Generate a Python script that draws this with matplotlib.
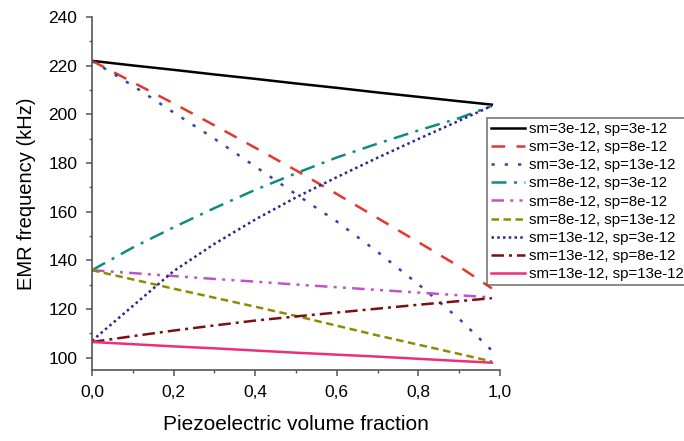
import numpy as np
import matplotlib
matplotlib.use('Agg')
import matplotlib.pyplot as plt
from matplotlib.ticker import MultipleLocator, FuncFormatter

plt.rcParams['font.family'] = ['Liberation Sans', 'DejaVu Sans']

# piezoelectric volume fraction
x = [0.0, 0.1, 0.2, 0.3, 0.4, 0.5, 0.6, 0.7, 0.8, 0.9, 0.98]

# EMR frequency (kHz), one list per compliance pair
f_3_3 = [222.0, 220.1, 218.3, 216.4, 214.6, 212.7, 210.9, 209.0, 207.2, 205.4, 204.0]
f_3_8 = [222.0, 213.2, 204.5, 195.5, 186.3, 177.0, 167.3, 157.4, 147.5, 137.5, 128.5]
f_3_13 = [222.0, 211.8, 200.8, 190.0, 178.6, 167.2, 156.0, 143.5, 130.2, 116.0, 103.0]
f_8_3 = [136.0, 145.3, 153.6, 161.5, 169.0, 175.8, 182.3, 188.0, 193.4, 198.5, 203.5]
f_8_8 = [136.0, 134.8, 133.6, 132.4, 131.3, 130.1, 129.0, 127.9, 126.8, 125.7, 124.8]
f_8_13 = [136.0, 132.2, 128.4, 124.7, 121.0, 117.2, 113.2, 109.2, 105.4, 101.6, 98.5]
f_13_3 = [107.0, 121.3, 135.6, 146.8, 156.8, 165.9, 174.2, 182.2, 189.9, 197.4, 203.5]
f_13_8 = [106.5, 108.9, 111.2, 113.3, 115.3, 117.0, 118.6, 120.2, 121.8, 123.3, 124.5]
f_13_13 = [106.5, 105.6, 104.7, 103.9, 103.0, 102.1, 101.3, 100.5, 99.6, 98.7, 98.0]

labels = ['sm=3e-12, sp=3e-12', 'sm=3e-12, sp=8e-12', 'sm=3e-12, sp=13e-12',
          'sm=8e-12, sp=3e-12', 'sm=8e-12, sp=8e-12', 'sm=8e-12, sp=13e-12',
          'sm=13e-12, sp=3e-12', 'sm=13e-12, sp=8e-12', 'sm=13e-12, sp=13e-12']
series = [f_3_3, f_3_8, f_3_13, f_8_3, f_8_8, f_8_13, f_13_3, f_13_8, f_13_13]
colors = ['#000000', '#e8362c', '#3445b0', '#0e8c84', '#c153c6',
          '#8c8c00', '#2e2390', '#7a1010', '#ec2f7c']
dashes = [None, (5.5, 4.5), (1.3, 4), (6, 3, 1.2, 3), (5, 2.5, 1.2, 2.5, 1.2, 2.5),
          (3, 1.8), (1, 1.3), (5, 2, 1.2, 2), None]

fig = plt.figure(figsize=(6.84, 4.41), dpi=100)
ax = fig.add_axes([92/684, 1-370/441, 408/684, 353/441])

for y, lab, c, d in zip(series, labels, colors, dashes):
    line, = ax.plot(x, y, color=c, lw=1.8, label=lab)
    if d is not None:
        line.set_dashes(d)

ax.set_xlim(0, 1.0)
ax.set_ylim(95, 240)
ax.xaxis.set_major_locator(MultipleLocator(0.2))
ax.xaxis.set_minor_locator(MultipleLocator(0.1))
ax.yaxis.set_major_locator(MultipleLocator(20))
ax.yaxis.set_minor_locator(MultipleLocator(10))
ax.xaxis.set_major_formatter(FuncFormatter(lambda v, p: f'{v:.1f}'.replace('.', ',')))

for s in ['top', 'right']:
    ax.spines[s].set_visible(False)
for s in ['left', 'bottom']:
    ax.spines[s].set_color('#555555')
    ax.spines[s].set_linewidth(1.2)
ax.tick_params(which='major', direction='out', length=4.5, width=1.1, color='#555555',
               labelsize=12.5, pad=6)
ax.tick_params(which='minor', direction='out', length=2.5, width=1.0, color='#555555')

ax.set_xlabel('Piezoelectric volume fraction', fontsize=15, labelpad=11)
ax.set_ylabel('EMR frequency (kHz)', fontsize=14.5, labelpad=9)

leg = fig.legend(loc='upper left', bbox_to_anchor=(487/684, 1-118/441), fontsize=10.8,
                 frameon=True, fancybox=False, handlelength=2.3, handletextpad=0.25,
                 labelspacing=0.28, borderpad=0.25, borderaxespad=0)
leg.get_frame().set_edgecolor('#555555')
leg.get_frame().set_linewidth(1.2)

fig.savefig('out.png', dpi=100)
